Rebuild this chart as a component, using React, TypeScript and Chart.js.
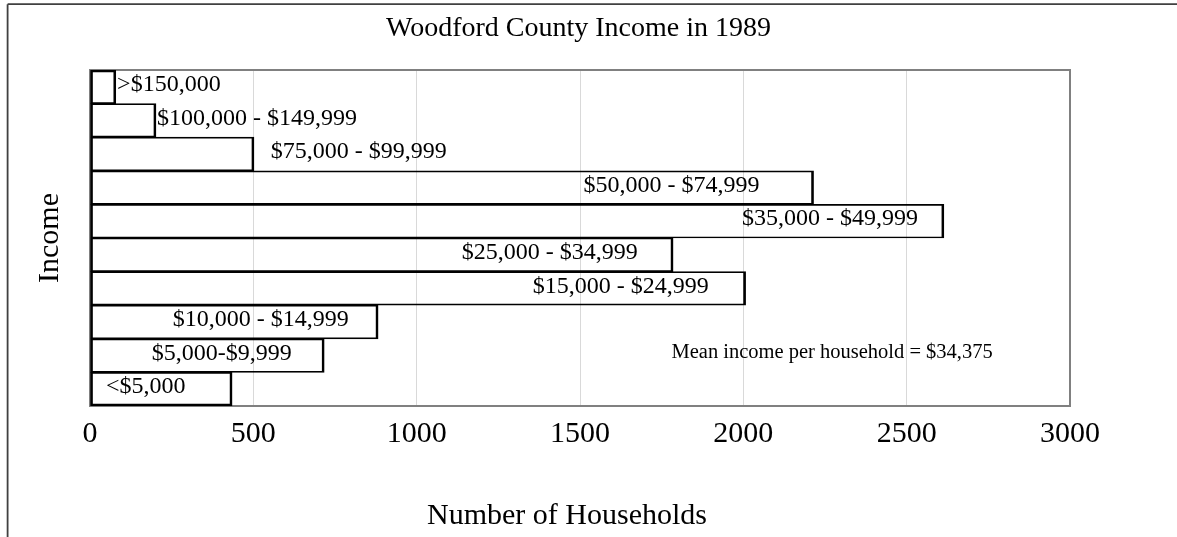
import React, { useEffect, useRef } from 'react';
import { Chart, registerables } from 'chart.js';

Chart.register(...registerables);

const FONT = "'Liberation Serif', 'Times New Roman', serif";

const chartTitle = 'Woodford County Income in 1989';
const xTitle = 'Number of Households';
const yTitle = 'Income';

const categories = [
  '>$150,000',
  '$100,000 - $149,999',
  '$75,000 - $99,999',
  '$50,000 - $74,999',
  '$35,000 - $49,999',
  '$25,000 - $34,999',
  '$15,000 - $24,999',
  '$10,000 - $14,999',
  '$5,000-$9,999',
  '<$5,000',
];
const households = [79, 202, 502, 2215, 2614, 1785, 2007, 882, 717, 435];
// where each bar's text label begins, in households units along the x axis
const labelStart = [83, 205, 553, 1511, 1996, 1138, 1355, 253, 189, 49];
const xTicks = [0, 500, 1000, 1500, 2000, 2500, 3000];

const noteText = 'Mean income per household = $34,375';
const noteAt = 1780;
const noteCategory = 8;

const decor = {
  id: 'decor',
  beforeDraw(chart: any) {
    const ctx = chart.ctx;
    ctx.save();
    ctx.fillStyle = '#ffffff';
    ctx.fillRect(0, 0, chart.width, chart.height);
    ctx.strokeStyle = '#404040';
    ctx.lineWidth = 1.8;
    ctx.beginPath();
    ctx.moveTo(7.6, 4.2);
    ctx.lineTo(chart.width + 5, 4.2);
    ctx.moveTo(7.6, 4.2);
    ctx.lineTo(7.6, chart.height + 5);
    ctx.stroke();
    ctx.restore();
  },
  beforeDatasetsDraw(chart: any) {
    const { ctx, chartArea: a } = chart;
    ctx.save();
    ctx.strokeStyle = '#808080';
    ctx.lineWidth = 2;
    ctx.strokeRect(a.left, a.top, a.right - a.left, a.bottom - a.top);
    ctx.restore();
  },
  afterDatasetsDraw(chart: any) {
    const { ctx } = chart;
    const xs = chart.scales.x;
    const ys = chart.scales.y;
    ctx.save();
    ctx.fillStyle = '#000000';
    ctx.textAlign = 'left';
    ctx.textBaseline = 'middle';
    ctx.font = `24px ${FONT}`;
    categories.forEach((c, i) => {
      ctx.fillText(c, xs.getPixelForValue(labelStart[i]), ys.getPixelForValue(i) - 2);
    });
    ctx.font = `20.5px ${FONT}`;
    ctx.fillText(noteText, xs.getPixelForValue(noteAt), ys.getPixelForValue(noteCategory) - 3);
    ctx.restore();
  },
  afterDraw(chart: any) {
    const { ctx } = chart;
    ctx.save();
    ctx.fillStyle = '#000000';
    ctx.textAlign = 'center';
    ctx.textBaseline = 'alphabetic';
    ctx.font = `30px ${FONT}`;
    ctx.fillText(xTitle, 567, 524);
    ctx.restore();
  },
};

export default function App() {
  const ref = useRef<HTMLCanvasElement | null>(null);

  useEffect(() => {
    if (!ref.current) return;
    const n = households.length;
    const chart = new Chart(ref.current, {
      type: 'bar',
      data: {
        labels: categories,
        datasets: [
          {
            data: households,
            backgroundColor: 'rgba(0,0,0,0)',
            borderColor: '#000000',
            borderWidth: (c: any) => ({
              top: c.dataIndex === 0 ? 2 : 1,
              bottom: c.dataIndex === n - 1 ? 2 : 1,
              left: 2,
              right: 2,
            }),
            borderSkipped: false,
            barPercentage: 1,
            categoryPercentage: 1,
            xAxisID: 'x',
            yAxisID: 'y',
          } as any,
        ],
      },
      options: {
        responsive: false,
        animation: false,
        devicePixelRatio: 1,
        indexAxis: 'y',
        layout: { padding: { left: 0, right: 20, top: 0, bottom: 0 } },
        plugins: {
          legend: { display: false },
          tooltip: { enabled: false },
          title: {
            display: true,
            text: chartTitle,
            color: '#000000',
            font: { family: FONT, size: 28, weight: 'normal' },
            padding: { top: 11.5, bottom: 24.9 },
          },
        },
        scales: {
          x: {
            type: 'linear',
            position: 'bottom',
            min: 0,
            max: 3000,
            afterBuildTicks: (s: any) => {
              s.ticks = xTicks.map((v) => ({ value: v }));
            },
            afterFit: (s: any) => {
              s.height = 131;
            },
            grid: { color: '#d9d9d9', lineWidth: 1, drawTicks: false },
            border: { display: false },
            ticks: {
              color: '#000000',
              font: { family: FONT, size: 30 },
              padding: 10,
              maxRotation: 0,
              autoSkip: false,
              callback: (v: any) => String(v),
            },
          },
          y: {
            type: 'category',
            position: 'left',
            afterFit: (s: any) => {
              s.width = 90;
            },
            grid: { display: false },
            border: { display: false },
            ticks: { display: false },
            title: {
              display: true,
              text: yTitle,
              color: '#000000',
              font: { family: FONT, size: 30 },
              padding: { top: 32, bottom: 0 },
            },
          },
          pad: {
            type: 'linear',
            position: 'right',
            display: true,
            afterFit: (s: any) => {
              s.width = 87;
            },
            grid: { display: false },
            border: { display: false },
            ticks: { display: false },
          },
        },
      } as any,
      plugins: [decor],
    });
    return () => chart.destroy();
  }, []);

  return (
    <div style={{ position: 'absolute', left: 0, top: 0, width: 1177, height: 537 }}>
      <canvas ref={ref} width={1177} height={537} style={{ display: 'block' }} />
    </div>
  );
}
